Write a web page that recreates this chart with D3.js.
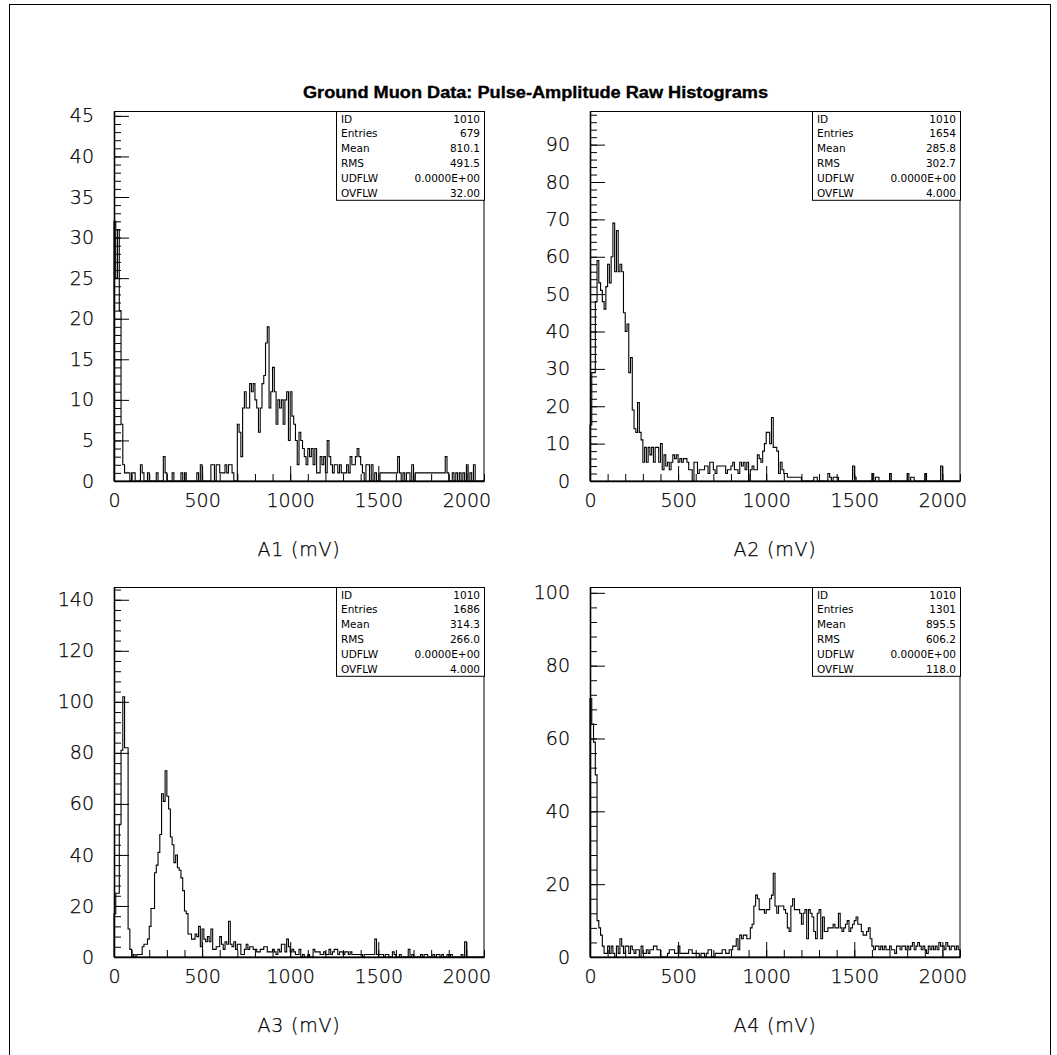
<!DOCTYPE html>
<html><head><meta charset="utf-8">
<script src="https://cdn.jsdelivr.net/npm/d3@7"></script>
<style>
body{margin:0;background:#fff}
svg{display:block}
.tick text{font-family:"DejaVu Sans",sans-serif;font-weight:200;font-size:19px;fill:#000;stroke:#000;stroke-width:0.25}
.axis path,.axis line{stroke:#000}
</style>
</head><body>
<svg id="page" width="1057" height="1055"></svg>
<script>
// Histogram binning: 10 mV bins from 0 to 2100 mV
const binWidth = 10;
const xMax = 2100;
const xTickValues = [0, 500, 1000, 1500, 2000];
const channelTitles = ["A1 (mV)", "A2 (mV)", "A3 (mV)", "A4 (mV)"];

// Counts per 10 mV bin for each channel
const countsA1 = [
  32,25,31,21,7,2,1,1,1,0, 1,1,0,0,0,2,1,0,0,1, 0,0,0,0,1,0,0,0,3,1, 0,0,0,1,0,0,0,0,1,0,
  1,0,0,0,0,0,0,1,0,2, 0,0,0,0,0,2,2,0,2,2, 1,1,1,2,1,2,2,1,0,0, 7,6,3,9,11,9,9,12,11,12,
  10,9,6,9,12,13,17,19,9,11, 14,11,7,10,9,10,7,10,11,5, 11,8,7,5,2,6,5,4,3,2, 4,3,4,2,4,1,1,3,2,3,
  1,5,3,2,1,2,2,1,2,1, 1,1,2,1,3,2,2,3,4,3, 2,1,0,2,2,0,2,0,1,0, 0,1,1,1,1,1,1,1,1,1,
  1,3,1,0,1,0,1,1,0,2, 0,1,1,1,1,1,1,1,1,1, 1,1,1,1,1,1,1,1,3,1, 0,0,1,0,1,0,1,0,1,0,
  2,0,1,0,2,0,0,0,0,0
];
const countsA2 = [
  15,29,29,48,59,53,51,48,46,52, 58,53,60,69,56,67,56,58,56,45, 40,42,29,33,19,14,13,21,13,11, 5,9,5,9,7,9,5,9,9,5,
  10,3,7,4,5,3,5,7,6,7, 5,6,5,6,6,5,3,3,0,5, 5,2,3,3,3,4,4,2,5,5, 3,2,4,4,4,4,4,2,3,3,
  4,5,3,3,2,5,4,5,3,5, 0,3,4,3,3,7,6,5,8,10, 13,13,10,17,9,9,8,2,5,3, 2,2,1,1,1,1,1,1,1,1,
  0,0,0,0,0,0,0,1,1,0, 0,0,0,0,0,2,1,0,1,1, 1,0,0,0,0,0,0,0,0,4, 1,0,0,0,0,0,0,0,0,0,
  2,0,1,1,0,0,0,0,0,0, 2,0,0,0,0,0,0,0,0,0, 2,0,1,1,0,0,0,0,0,0, 2,0,0,0,0,0,0,0,0,4,
  0,0,0,0,0,0,0,0,0,0
];
const countsA3 = [
  17,25,25,52,81,102,82,82,11,3, 0,1,0,1,1,1,4,5,5,7, 12,19,19,33,36,41,48,64,61,73, 63,58,47,44,37,40,35,34,31,26,
  18,17,9,9,7,7,9,8,12,4, 11,7,6,8,6,11,3,3,4,4, 8,5,3,6,5,14,5,4,6,3, 5,5,1,1,3,5,3,4,4,3,
  3,2,2,3,3,4,4,2,2,2, 3,2,1,3,2,5,5,2,7,4, 2,3,2,1,1,3,0,1,0,0, 1,0,0,3,2,2,2,1,1,2,
  1,1,3,1,2,3,3,1,2,2, 1,2,2,1,2,1,1,1,1,1, 1,0,1,1,1,1,1,1,7,1, 1,1,1,0,1,1,0,0,2,1,
  0,0,1,0,0,0,0,3,0,1, 0,0,0,0,1,0,1,1,0,0, 0,1,0,1,1,0,1,0,0,1, 0,1,0,0,0,0,0,1,0,6,
  0,0,0,0,0,0,0,0,0,0
];
const countsA4 = [
  71,64,59,50,10,8,6,3,1,1, 3,1,3,1,0,3,1,5,3,1, 3,3,1,3,2,1,2,2,0,3, 1,1,2,1,2,2,3,3,2,2,
  0,0,0,0,1,2,2,2,1,1, 3,1,1,1,1,1,2,2,1,1, 1,1,0,1,1,0,1,2,2,0, 0,1,1,1,1,2,2,1,1,2,
  2,3,3,5,2,6,5,6,6,5, 5,8,9,14,17,16,13,13,13,12, 13,13,16,17,23,14,12,14,14,14, 13,12,8,7,14,16,13,13,13,12,
  9,12,13,5,13,12,11,7,5,12, 13,5,11,7,7,8,8,8,9,8, 8,12,8,7,8,9,10,7,8,9, 10,11,9,9,7,6,6,7,8,5,
  3,2,3,3,2,3,2,3,2,2, 3,2,2,1,3,3,2,3,3,2, 3,2,3,4,2,3,4,3,2,3, 2,1,3,2,3,2,3,2,4,3,
  3,2,4,3,2,3,3,2,3,2
];

// Vertical axis ranges and tick steps per channel
const yMax = [45.6, 99, 145, 101.6];
const yTickMax = [45, 90, 140, 100];
const yMajorStep = [5, 10, 20, 20];
const yMinorStep = [1, 2, 4, 4];

// Statistics box contents
const statLabels = ["ID", "Entries", "Mean", "RMS", "UDFLW", "OVFLW"];
const statsA1 = ["1010", "679", "810.1", "491.5", "0.0000E+00", "32.00"];
const statsA2 = ["1010", "1654", "285.8", "302.7", "0.0000E+00", "4.000"];
const statsA3 = ["1010", "1686", "314.3", "266.0", "0.0000E+00", "4.000"];
const statsA4 = ["1010", "1301", "895.5", "606.2", "0.0000E+00", "118.0"];

const pageTitle = "Ground Muon Data: Pulse-Amplitude Raw Histograms";

const channels = [
  {counts: countsA1, stats: statsA1},
  {counts: countsA2, stats: statsA2},
  {counts: countsA3, stats: statsA3},
  {counts: countsA4, stats: statsA4}
];

const svg = d3.select("#page");

// page border
svg.append("rect").attr("x", 9.5).attr("y", 4.5).attr("width", 1041).attr("height", 1060)
  .attr("fill", "none").attr("stroke", "#000").attr("stroke-width", 1);

svg.append("text").attr("x", 303).attr("y", 98)
  .attr("font-family", "'Liberation Sans', Arial, sans-serif").attr("font-weight", "bold")
  .attr("font-size", 16).attr("textLength", 465).attr("lengthAdjust", "spacingAndGlyphs")
  .attr("stroke", "#000").attr("stroke-width", 0.35)
  .text(pageTitle);

const size = 370;
const lefts = [114, 590];
const tops = [111, 587];

channels.forEach((ch, k) => {
  const x0 = lefts[k % 2], y0 = tops[Math.floor(k / 2)];
  const g = svg.append("g").attr("transform", `translate(${x0},${y0})`);

  const x = d3.scaleLinear().domain([0, xMax]).range([0, size]);
  const y = d3.scaleLinear().domain([0, yMax[k]]).range([size, 0]);

  // frame
  g.append("rect").attr("x", 0.5).attr("y", 0.5).attr("width", size - 0.5).attr("height", size - 0.5)
    .attr("fill", "none").attr("stroke", "#000").attr("stroke-width", 1);

  // histogram outline
  const pts = [[0, 0]];
  ch.counts.forEach((c, i) => pts.push([i * binWidth, c]));
  const last = ch.counts.length * binWidth;
  pts.push([last, ch.counts[ch.counts.length - 1]]);
  pts.push([last, 0]);
  const line = d3.line().x(d => x(d[0])).y(d => y(d[1])).curve(d3.curveStepAfter);
  g.append("path").attr("d", line(pts)).attr("fill", "none")
    .attr("stroke", "#000").attr("stroke-width", 1.1);

  // minor ticks
  const yMinor = d3.range(0, yMax[k] + 1e-9, yMinorStep[k]);
  g.append("g").attr("class", "axis")
    .call(d3.axisLeft(y).tickValues(yMinor).tickSizeInner(-7).tickSizeOuter(0).tickFormat(""))
    .call(s => s.select(".domain").remove());
  g.append("g").attr("class", "axis").attr("transform", `translate(0,${size})`)
    .call(d3.axisBottom(x).tickValues(d3.range(0, xMax + 1, 100)).tickSizeInner(-7).tickSizeOuter(0).tickFormat(""))
    .call(s => s.select(".domain").remove());

  // major ticks with labels
  const yMajor = d3.range(0, yTickMax[k] + 1e-9, yMajorStep[k]);
  g.append("g").attr("class", "axis")
    .call(d3.axisLeft(y).tickValues(yMajor).tickSizeInner(-15).tickSizeOuter(0).tickPadding(20).tickFormat(d3.format("d")))
    .call(s => s.select(".domain").attr("stroke-width", 1.6));
  g.append("g").attr("class", "axis").attr("transform", `translate(0,${size})`)
    .call(d3.axisBottom(x).tickValues(xTickValues).tickSizeInner(-15).tickSizeOuter(0).tickPadding(12.5).tickFormat(d3.format("d")))
    .call(s => s.select(".domain").attr("stroke-width", 1.6));

  g.append("text").attr("x", size / 2).attr("y", size + 75).attr("text-anchor", "middle")
    .attr("font-family", "'DejaVu Sans', sans-serif").attr("font-weight", 200).attr("font-size", 19)
    .attr("stroke", "#000").attr("stroke-width", 0.25)
    .attr("letter-spacing", 0.8).text(channelTitles[k]);

  // statistics box
  const bw = 148, rh = 14.8;
  const box = g.append("g").attr("transform", `translate(${size - bw},0)`);
  box.append("rect").attr("x", 0.5).attr("y", 0.5).attr("width", bw).attr("height", rh * 6)
    .attr("fill", "#fff").attr("stroke", "#000").attr("stroke-width", 1);
  statLabels.forEach((lab, i) => {
    box.append("text").attr("x", 5).attr("y", rh * i + 11.5)
      .attr("font-family", "'DejaVu Sans', sans-serif").attr("font-size", 10.5).text(lab);
    box.append("text").attr("x", bw - 4).attr("y", rh * i + 11.5).attr("text-anchor", "end")
      .attr("font-family", "'DejaVu Sans', sans-serif").attr("font-size", 10.5).text(ch.stats[i]);
  });
});
</script>
</body></html>
